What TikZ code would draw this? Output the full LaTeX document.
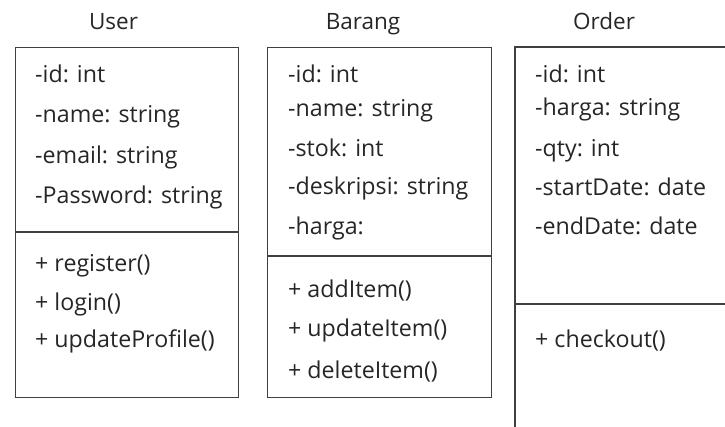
\documentclass[tikz,border=0pt]{standalone}
\usepackage{fontspec}
\setmainfont{Open Sans}
\begin{document}
\begin{tikzpicture}[x=1pt,y=-1pt,
  boxline/.style={draw=black!75,line width=1.3pt},
  txt/.style={anchor=base west,inner sep=0pt,text=black!85,font=\fontsize{23.2}{27}\selectfont},
  ttl/.style={anchor=base,inner sep=0pt,text=black!85,font=\fontsize{22.5}{26}\selectfont}]
\useasboundingbox (0,0) rectangle (725,427);
% boxes
\node[boxline,anchor=north west,minimum width=223pt,minimum height=350pt,inner sep=0pt] (ubox) at (15,47) {};
\node[boxline,anchor=north west,minimum width=224pt,minimum height=350pt,inner sep=0pt] (bbox) at (267,47) {};
\coordinate (otl) at (515,47);
\coordinate (otr) at (726,47);
\coordinate (obl) at (515,428);
\draw[boxline] (otr) -- (otl) -- (obl);
% dividers
\coordinate (ud1) at (15,232); \coordinate (ud2) at (238,232);
\draw[boxline] (ud1) -- (ud2);
\coordinate (bd1) at (267,256); \coordinate (bd2) at (491,256);
\draw[boxline] (bd1) -- (bd2);
\coordinate (od1) at (515,304); \coordinate (od2) at (726,304);
\draw[boxline] (od1) -- (od2);
% titles
\node[ttl] (tu) at (113.5,30) {User};
\node[ttl] (tb) at (363,30) {Barang};
\node[ttl] (to) at (604,30) {Order};
% User
\node[txt] (u1) at (35,83) {-id: int};
\node[txt] (u2) at (35,123) {-name: string};
\node[txt] (u3) at (35,164) {-email: string};
\node[txt] (u4) at (35,204) {-Password: string};
\node[txt] (u5) at (35,272) {+ register()};
\node[txt] (u6) at (35,311) {+ login()};
\node[txt] (u7) at (35,348) {+ updateProfile()};
% Barang
\node[txt] (b1) at (288,83) {-id: int};
\node[txt] (b2) at (288,117) {-name: string};
\node[txt] (b3) at (288,157) {-stok: int};
\node[txt] (b4) at (288,195) {-deskripsi: string};
\node[txt] (b5) at (288,235) {-harga:};
\node[txt] (b6) at (288,298) {+ addItem()};
\node[txt] (b7) at (288,337) {+ updateItem()};
\node[txt] (b8) at (288,378) {+ deleteItem()};
% Order
\node[txt] (o1) at (535,83) {-id: int};
\node[txt] (o2) at (535,116) {-harga: string};
\node[txt] (o3) at (535,157) {-qty: int};
\node[txt] (o4) at (535,196) {-startDate: date};
\node[txt] (o5) at (535,235) {-endDate: date};
\node[txt] (o6) at (535,347) {+ checkout()};
\end{tikzpicture}
\end{document}
